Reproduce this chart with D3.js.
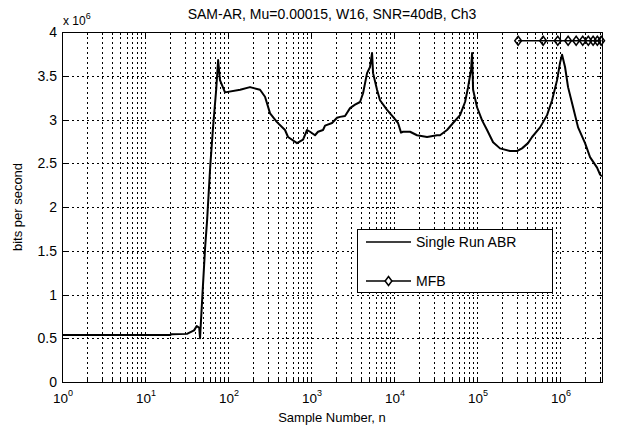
<!DOCTYPE html>
<html><head><meta charset="utf-8">
<script src="https://cdn.jsdelivr.net/npm/d3@7"></script>
<style>
body{margin:0;background:#fff;}
svg{font-family:"Liberation Sans",Arial,sans-serif;}
</style></head>
<body><svg id="c" width="618" height="430"></svg>
<script>
const title = "SAM-AR, Mu=0.00015, W16, SNR=40dB, Ch3";
const xLabel = "Sample Number, n";
const yLabel = "bits per second";
const seriesNames = ["Single Run ABR", "MFB"];
const yTicks = [0, 0.5e6, 1e6, 1.5e6, 2e6, 2.5e6, 3e6, 3.5e6, 4e6];
const yTickLabels = ["0", "0.5", "1", "1.5", "2", "2.5", "3", "3.5", "4"];
const xDecades = [0, 1, 2, 3, 4, 5, 6];

// Single Run ABR: sample number and bits/s
const abrN = [1, 20, 21, 32, 39, 42, 45, 46, 47, 49, 53, 56, 61, 66, 72, 76, 80, 92, 140, 184, 243, 279, 321, 389, 486, 528, 678, 801, 895, 973, 1117, 1214, 1395, 1475, 1791, 2057, 2235, 2568, 2951, 3390, 3894, 4233, 4729, 5139, 5433, 5588, 6240, 6776, 8235, 9730, 11170, 12140, 12830, 15590, 18920, 25000, 33000, 35800, 43500, 51400, 62400, 71700, 78000, 84700, 87100, 89600, 100000, 115000, 132000, 156000, 189000, 250000, 303000, 348000, 411000, 460000, 574000, 697000, 801000, 920000, 1000000, 1057000, 1148000, 1248000, 1435000, 1648000, 2000000, 2296000, 2790000, 3034000, 3200000];
const abrV = [0.537, 0.537, 0.547, 0.55, 0.59, 0.64, 0.62, 0.5, 0.66, 0.97, 1.54, 1.85, 2.46, 2.91, 3.34, 3.68, 3.45, 3.31, 3.34, 3.37, 3.34, 3.26, 3.07, 2.97, 2.88, 2.8, 2.73, 2.77, 2.88, 2.86, 2.82, 2.86, 2.88, 2.93, 2.96, 3.02, 3.03, 3.04, 3.13, 3.17, 3.2, 3.3, 3.53, 3.6, 3.76, 3.53, 3.34, 3.22, 3.11, 3.03, 2.96, 2.85, 2.86, 2.86, 2.82, 2.8, 2.82, 2.82, 2.88, 2.96, 3.05, 3.2, 3.37, 3.57, 3.76, 3.34, 3.14, 2.99, 2.88, 2.74, 2.67, 2.64, 2.64, 2.67, 2.73, 2.8, 2.91, 3.05, 3.22, 3.45, 3.65, 3.74, 3.6, 3.37, 3.14, 2.91, 2.73, 2.57, 2.45, 2.37, 2.35].map(v => v * 1e6);

// MFB
const mfbN = [312500, 625000, 937500, 1250000, 1562500, 1875000, 2187500, 2500000, 2812500, 3125000];
const mfbV = [3.9e6, 3.9e6, 3.9e6, 3.9e6, 3.9e6, 3.9e6, 3.9e6, 3.9e6, 3.9e6, 3.9e6];

const L = 62, R = 602, T = 32, B = 382;
const svg = d3.select("#c");
const x = d3.scaleLog().domain([1, 3.2e6]).range([L, R]);
const y = d3.scaleLinear().domain([0, 4e6]).range([B, T]);

// grid
const g = svg.append("g");
const minorX = [];
xDecades.forEach(d => { for (let k = 1; k <= 9; k++) { const v = k * Math.pow(10, d); if (v > 1 && v < 3.2e6) minorX.push(v); } });
g.selectAll("line.gx").data(minorX).enter().append("line")
  .attr("x1", d => Math.round(x(d)) + 0.5).attr("x2", d => Math.round(x(d)) + 0.5)
  .attr("y1", T).attr("y2", B)
  .attr("stroke", "#000").attr("stroke-width", 1).attr("stroke-dasharray", "2,3");
g.selectAll("line.gy").data(yTicks.slice(1, -1)).enter().append("line")
  .attr("y1", d => Math.round(y(d)) + 0.5).attr("y2", d => Math.round(y(d)) + 0.5)
  .attr("x1", L).attr("x2", R)
  .attr("stroke", "#000").attr("stroke-width", 1).attr("stroke-dasharray", "2,3");

// frame
svg.append("rect").attr("x", L + 0.5).attr("y", T + 0.5).attr("width", R - L).attr("height", B - T)
  .attr("fill", "none").attr("stroke", "#000").attr("stroke-width", 1);

// ticks
const tk = svg.append("g").attr("stroke", "#000");
minorX.concat([1]).forEach(v => {
  const isMajor = Math.abs(Math.log10(v) - Math.round(Math.log10(v))) < 1e-9;
  const len = isMajor ? 5 : 3;
  const xx = Math.round(x(v)) + 0.5;
  tk.append("line").attr("x1", xx).attr("x2", xx).attr("y1", B).attr("y2", B - len);
  tk.append("line").attr("x1", xx).attr("x2", xx).attr("y1", T).attr("y2", T + len);
});
yTicks.forEach(v => {
  const yy = Math.round(y(v)) + 0.5;
  tk.append("line").attr("x1", L).attr("x2", L + 5).attr("y1", yy).attr("y2", yy);
  tk.append("line").attr("x1", R).attr("x2", R - 5).attr("y1", yy).attr("y2", yy);
});

// y tick labels
svg.selectAll("text.yt").data(yTicks).enter().append("text")
  .attr("x", L - 5).attr("y", d => y(d) + 5).attr("text-anchor", "end")
  .attr("font-size", 14).attr("fill", "#000").text((d, i) => yTickLabels[i]);
// exponent label
const ex = svg.append("text").attr("x", L + 1).attr("y", 25).attr("font-size", 12).attr("fill", "#000");
ex.append("tspan").text("x 10");
ex.append("tspan").attr("dy", -6).attr("font-size", 9).text("6");

// x tick labels
xDecades.forEach(d => {
  const t = svg.append("text").attr("x", x(Math.pow(10, d)) + 1).attr("y", 403)
    .attr("text-anchor", "middle").attr("font-size", 13.5).attr("fill", "#000");
  t.append("tspan").text("10");
  t.append("tspan").attr("dy", -7).attr("font-size", 9).text(String(d));
});

// titles
svg.append("text").attr("x", (L + R) / 2).attr("y", 19).attr("text-anchor", "middle")
  .attr("font-size", 14).attr("fill", "#000").text(title);
svg.append("text").attr("x", (L + R) / 2).attr("y", 422).attr("text-anchor", "middle")
  .attr("font-size", 13).attr("fill", "#000").text(xLabel);
svg.append("text").attr("transform", `translate(22,${(T + B) / 2}) rotate(-90)`).attr("text-anchor", "middle")
  .attr("font-size", 13).attr("fill", "#000").text(yLabel);

// ABR line
const line = d3.line().x(d => x(d[0])).y(d => y(d[1]));
svg.append("path").datum(abrN.map((n, i) => [n, abrV[i]]))
  .attr("d", line).attr("fill", "none").attr("stroke", "#000").attr("stroke-width", 2).attr("stroke-linejoin", "round");

// MFB line + diamonds
const diamond = (cx, cy, r) => `M${cx},${cy - r}L${cx + r * 0.75},${cy}L${cx},${cy + r}L${cx - r * 0.75},${cy}Z`;
svg.append("path").datum(mfbN.map((n, i) => [n, mfbV[i]]))
  .attr("d", line).attr("fill", "none").attr("stroke", "#000").attr("stroke-width", 1.5);
svg.selectAll("path.mk").data(mfbN).enter().append("path")
  .attr("d", (n, i) => diamond(x(n), y(mfbV[i]), 4.5))
  .attr("fill", "none").attr("stroke", "#000").attr("stroke-width", 1.5);

// legend
const lg = svg.append("g");
lg.append("rect").attr("x", 357.5).attr("y", 229.5).attr("width", 195).attr("height", 63)
  .attr("fill", "#fff").attr("stroke", "#000").attr("stroke-width", 1);
lg.append("line").attr("x1", 366).attr("x2", 411).attr("y1", 242).attr("y2", 242).attr("stroke", "#000").attr("stroke-width", 1.5);
lg.append("text").attr("x", 416).attr("y", 247).attr("font-size", 14).attr("fill", "#000").text(seriesNames[0]);
lg.append("line").attr("x1", 366).attr("x2", 411).attr("y1", 281).attr("y2", 281).attr("stroke", "#000").attr("stroke-width", 1.5);
lg.append("path").attr("d", diamond(388.5, 281, 4.5)).attr("fill", "#fff").attr("stroke", "#000").attr("stroke-width", 1.5);
lg.append("text").attr("x", 416).attr("y", 286).attr("font-size", 14).attr("fill", "#000").text(seriesNames[1]);
</script></body></html>
